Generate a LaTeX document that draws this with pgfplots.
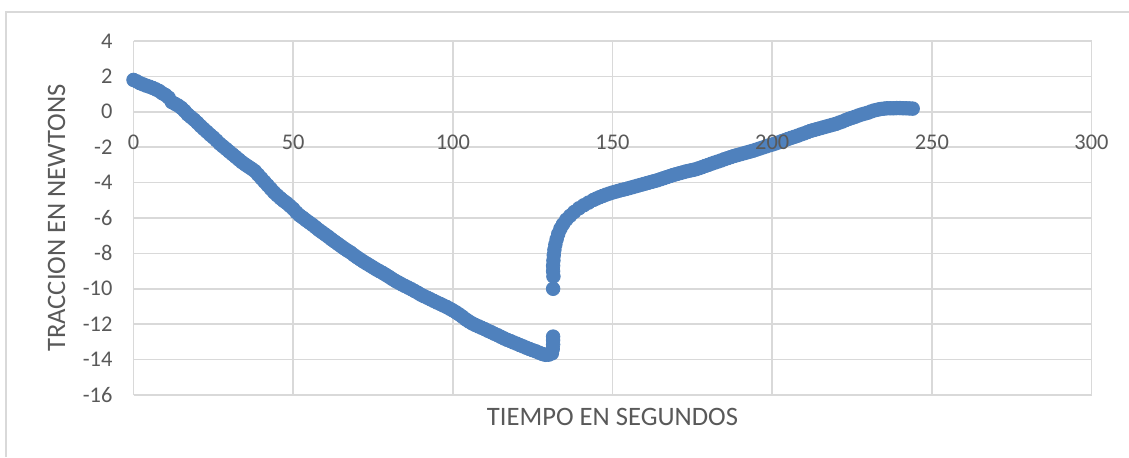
\documentclass[border=0pt]{standalone}
\usepackage{fontspec}
\setmainfont{Carlito}
\usepackage{pgfplots}
\usepackage{pgfplotstable}
\pgfplotsset{compat=1.18}
\definecolor{serie}{RGB}{79,129,189}
\definecolor{rejilla}{RGB}{217,217,217}
\definecolor{texto}{RGB}{89,89,89}

% common geometry of the plot area
\pgfplotsset{
  marco/.style={
    scale only axis,
    width=479pt, height=177pt,
    at={(66.75pt,31pt)}, anchor=south west,
    xmin=0, xmax=300, ymin=-16, ymax=4,
    xtick={0,50,...,300},
    ytick={-16,-14,...,4},
    axis x line=middle, axis y line=left,
    major tick length=0pt,
    hide obscured x ticks=false,
    clip=false,
  },
}

% Traction (N) against time (s)
\pgfplotstableread{
t f
0 1.80
1 1.72
2 1.62
3 1.55
4 1.48
5 1.42
6 1.35
7 1.27
8 1.18
9 1.05
10 0.95
11 0.80
12 0.55
13 0.45
14 0.35
15 0.22
16 0.05
17 -0.15
18 -0.30
19 -0.45
20 -0.62
21 -0.80
22 -0.97
23 -1.13
24 -1.30
25 -1.45
26 -1.62
27 -1.80
28 -1.95
29 -2.10
30 -2.25
31 -2.40
32 -2.55
33 -2.70
34 -2.85
35 -2.98
36 -3.10
37 -3.22
38 -3.35
39 -3.55
40 -3.75
41 -3.95
42 -4.15
43 -4.35
44 -4.55
45 -4.72
46 -4.88
47 -5.03
48 -5.16
49 -5.32
50 -5.48
51 -5.68
52 -5.85
53 -5.98
54 -6.12
55 -6.25
56 -6.38
57 -6.52
58 -6.67
59 -6.80
60 -6.93
61 -7.06
62 -7.20
63 -7.33
64 -7.46
65 -7.59
66 -7.72
67 -7.84
68 -7.95
69 -8.09
70 -8.22
71 -8.34
72 -8.46
73 -8.57
74 -8.68
75 -8.79
76 -8.90
77 -9.00
78 -9.10
79 -9.21
80 -9.32
81 -9.44
82 -9.55
83 -9.65
84 -9.75
85 -9.84
86 -9.93
87 -10.02
88 -10.12
89 -10.22
90 -10.33
91 -10.42
92 -10.50
93 -10.59
94 -10.68
95 -10.77
96 -10.85
97 -10.94
98 -11.02
99 -11.12
100 -11.22
101 -11.33
102 -11.45
103 -11.58
104 -11.72
105 -11.84
106 -11.95
107 -12.04
108 -12.12
109 -12.20
110 -12.28
111 -12.37
112 -12.45
113 -12.54
114 -12.62
115 -12.71
116 -12.80
117 -12.88
118 -12.95
119 -13.03
120 -13.10
121 -13.18
122 -13.25
123 -13.33
124 -13.40
125 -13.47
126 -13.53
127 -13.61
128 -13.68
129 -13.73
130 -13.72
131 -13.65
131.3 -13.40
131.4 -13.15
131.4 -12.90
131.4 -12.70
131.4 -10.00
131.5 -9.30
131.4 -9.00
131.4 -8.70
131.5 -8.40
131.6 -8.10
131.8 -7.80
132.1 -7.50
132.5 -7.20
133.0 -6.90
133.7 -6.60
134.5 -6.35
135.5 -6.10
136.7 -5.88
138 -5.66
139.5 -5.45
141 -5.28
142.5 -5.13
144 -4.98
145 -4.90
146 -4.82
147 -4.75
148 -4.68
149 -4.62
150 -4.56
151 -4.51
152 -4.46
153 -4.41
154 -4.37
155 -4.32
156 -4.27
157 -4.22
158 -4.17
159 -4.12
160 -4.07
161 -4.02
162 -3.97
163 -3.92
164 -3.87
165 -3.81
166 -3.75
167 -3.69
168 -3.63
169 -3.57
170 -3.52
171 -3.47
172 -3.42
173 -3.37
174 -3.33
175 -3.29
176 -3.25
177 -3.19
178 -3.13
179 -3.06
180 -3.00
181 -2.93
182 -2.87
183 -2.81
184 -2.75
185 -2.68
186 -2.62
187 -2.56
188 -2.50
189 -2.45
190 -2.40
191 -2.35
192 -2.30
193 -2.25
194 -2.20
195 -2.14
196 -2.08
197 -2.02
198 -1.96
199 -1.90
200 -1.85
201 -1.79
202 -1.73
203 -1.66
204 -1.60
205 -1.53
206 -1.47
207 -1.41
208 -1.35
209 -1.28
210 -1.22
211 -1.15
212 -1.08
213 -1.03
214 -0.98
215 -0.93
216 -0.88
217 -0.83
218 -0.78
219 -0.73
220 -0.68
221 -0.61
222 -0.55
223 -0.47
224 -0.40
225 -0.34
226 -0.28
227 -0.21
228 -0.15
229 -0.10
230 -0.05
231 0.02
232 0.08
233 0.12
234 0.16
235 0.18
236 0.20
237 0.20
238 0.20
239 0.21
240 0.21
241 0.20
242 0.20
243 0.19
244 0.18
}\traccion

\begin{document}
\begin{tikzpicture}
\useasboundingbox (0,0) rectangle (564.5pt,228.5pt);
\fill[white] (0,0) rectangle (564.5pt,228.5pt);
\draw[rejilla, line width=0.6pt] (3pt,0) -- (3pt,222.5pt) -- (564.5pt,222.5pt);
% grid, axis lines and data
\begin{axis}[
  marco,
  axis line style={draw=rejilla, line width=0.75pt, -},
  grid=major,
  grid style={draw=rejilla, line width=0.75pt},
  xticklabels={}, yticklabels={},
]
\addplot[only marks, mark=*, mark size=3.4pt, color=serie,
  mark options={draw=serie, fill=serie}] table[x=t, y=f] {\traccion};
\node[font=\fontsize{13.3}{16}\selectfont, text=texto, anchor=center]
  at (axis description cs:0.5,-0.0613) {TIEMPO EN SEGUNDOS};
\node[font=\fontsize{13.3}{16}\selectfont, text=texto, anchor=center, rotate=90]
  at (axis description cs:-0.0804,0.5) {TRACCION EN NEWTONS};
\end{axis}
% tick labels, set above the data
\begin{axis}[
  marco,
  axis line style={draw=none},
  /pgf/number format/assume math mode=true,
  tick label style={font=\fontsize{11.2}{13}\selectfont, text=texto},
  xticklabel style={anchor=north, yshift=-8pt},
  yticklabel style={anchor=east, xshift=-7pt},
]
\end{axis}
\end{tikzpicture}
\end{document}
